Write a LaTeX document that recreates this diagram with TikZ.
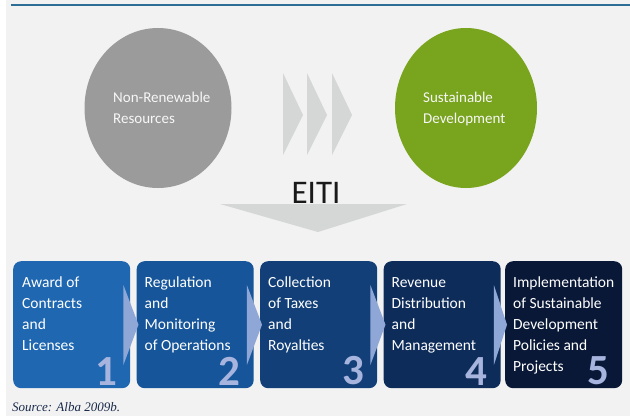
\documentclass[tikz,border=0pt]{standalone}
\usepackage{fontspec}
\setmainfont{Carlito}
\newfontfamily\srcfont{Liberation Serif}
\usetikzlibrary{shapes.geometric,calc}

\definecolor{bgpanel}{HTML}{F2F2F2}
\definecolor{rulecol}{HTML}{2C6E96}
\definecolor{resgray}{HTML}{9B9B9B}
\definecolor{devgreen}{HTML}{79A41D}
\definecolor{chevgray}{HTML}{D5D6D6}
\definecolor{boxA}{HTML}{1F67B1}
\definecolor{boxB}{HTML}{17559A}
\definecolor{boxC}{HTML}{123F77}
\definecolor{boxD}{HTML}{0E2C5A}
\definecolor{boxE}{HTML}{0A1838}
\definecolor{linkblue}{HTML}{8FA7D7}
\definecolor{numblue}{HTML}{A6B4DE}
\definecolor{srcblue}{HTML}{1A2A4A}

% fixed top for multi-line labels: first line always 12pt above its baseline
\newcommand{\toprow}{\rule{0pt}{12pt}}

\tikzset{
  bubble/.style={ellipse, draw=none, minimum width=147pt, minimum height=160pt, inner sep=0},
  bubbletext/.style={anchor=north west, align=left, inner sep=0, text=white!94!gray,
    font=\fontsize{15}{21}\selectfont},
  stagebox/.style={rectangle, rounded corners=8pt, draw=none, anchor=north west,
    minimum width=117pt, minimum height=127pt, inner sep=0},
  stagetext/.style={anchor=north west, align=left, inner sep=0, text=white,
    font=\fontsize{15.5}{21}\selectfont},
  stagenum/.style={anchor=south east, inner sep=0, text=numblue,
    font=\bfseries\fontsize{43}{43}\selectfont},
  link/.style={fill=linkblue, draw=none},
  chev/.style={fill=chevgray, draw=none},
}

\begin{document}
\begin{tikzpicture}[x=1pt,y=-1pt]
  % canvas
  \useasboundingbox (0,0) rectangle (630,416);
  \fill[white] (0,0) rectangle (630,416);
  \fill[bgpanel] (6,0) rectangle (630,416);
  \draw[rulecol, line width=2pt] (11,5) -- (630,5);

  % the two bubbles
  \node[bubble, fill=resgray] (res) at (158,108) {};
  \node[bubble, fill=devgreen, minimum width=142pt] (dev) at (466,108) {};
  \node[bubbletext] (restext) at (113,90) {\toprow Non-Renewable\\Resources};
  \node[bubbletext] (devtext) at (423,90) {\toprow Sustainable\\Development};

  % chevrons between the bubbles
  \foreach \cx in {283,307,332}{
    \fill[chev] (\cx,73) -- (\cx+20,115) -- (\cx,155) -- cycle;
  }

  % EITI label and the wide down arrow
  \node[anchor=base, inner sep=0, text=black!90, font=\fontsize{33}{33}\selectfont]
    (eiti) at (316,203) {EITI};
  \coordinate (dl) at (220,204);
  \coordinate (dr) at (407,204);
  \coordinate (dt) at (318,232);
  \fill[chev] (dl) -- (dr) -- (dt) -- cycle;

  % stage boxes
  \node[stagebox, fill=boxA] (s1) at (13,261) {};
  \node[stagebox, fill=boxB] (s2) at (136.5,261) {};
  \node[stagebox, fill=boxC] (s3) at (260,261) {};
  \node[stagebox, fill=boxD] (s4) at (383.5,261) {};
  \node[stagebox, fill=boxE] (s5) at (505,261) {};

  % connecting arrows
  \foreach \a/\b in {s1/s2,s2/s3,s3/s4,s4/s5}{
    \fill[link] ($(\a.north east)+(-7,24)$) -- ($(\b.west)+(2,0)$)
      -- ($(\a.north east)+(-7,104)$) -- cycle;
  }

  % stage texts
  \node[stagetext] (t1) at ($(s1.north west)+(9,14)$) {\toprow Award of\\Contracts\\and\\Licenses};
  \node[stagetext] (t2) at ($(s2.north west)+(8,14)$) {\toprow Regulation\\and\\Monitoring\\of Operations};
  \node[stagetext] (t3) at ($(s3.north west)+(8,14)$) {\toprow Collection\\of Taxes\\and\\Royalties};
  \node[stagetext] (t4) at ($(s4.north west)+(8,14)$) {\toprow Revenue\\Distribution\\and\\Management};
  \node[stagetext] (t5) at ($(s5.north west)+(8,14)$) {\toprow Implementation\\of Sustainable\\Development\\Policies and\\Projects};

  % stage numbers
  \node[stagenum] (n1) at ($(s1.south east)+(-13,-3)$) {1};
  \node[stagenum] (n2) at ($(s2.south east)+(-13,-3)$) {2};
  \node[stagenum] (n3) at ($(s3.south east)+(-13,-3)$) {3};
  \node[stagenum] (n4) at ($(s4.south east)+(-13,-3)$) {4};
  \node[stagenum] (n5) at ($(s5.south east)+(-13,-3)$) {5};

  % source line
  \node[anchor=base west, inner sep=0, text=srcblue, font=\srcfont\itshape\fontsize{13}{13}\selectfont]
    (src) at (12,411) {Source: Alba 2009b.};
\end{tikzpicture}
\end{document}
